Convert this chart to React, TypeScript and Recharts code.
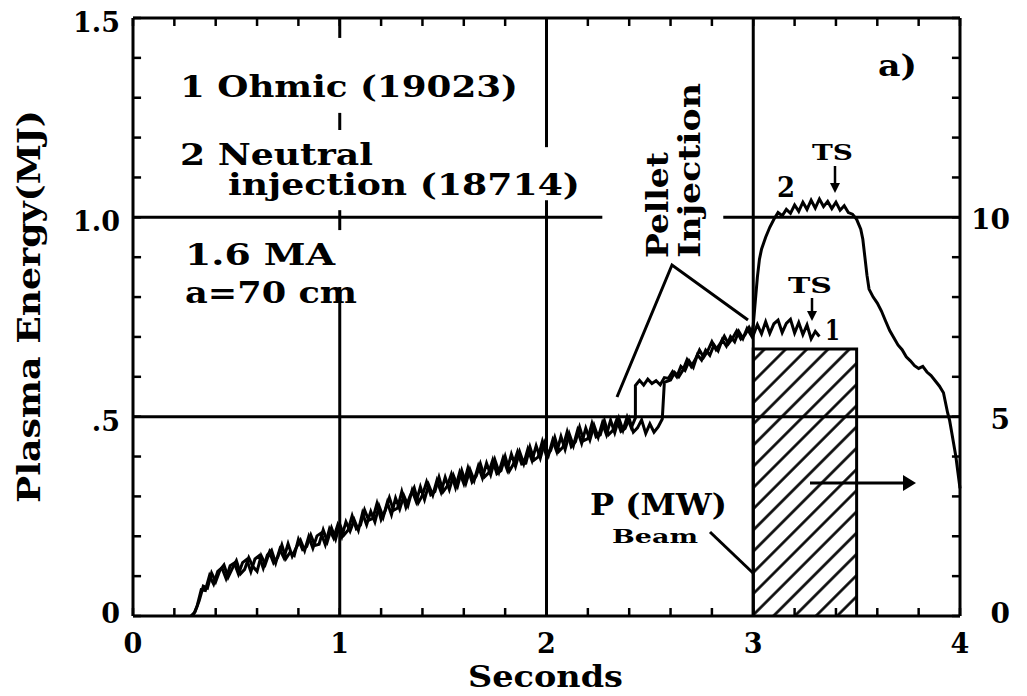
import { ComposedChart, Line, Area, XAxis, YAxis, ReferenceLine } from "recharts";

// Plasma energy, shot 19023 (ohmic), seconds / MJ
const ohmicTime = [
  0.28, 0.3, 0.32, 0.34, 0.36, 0.38, 0.4, 0.42, 0.44, 0.46, 0.48, 0.5, 0.52, 0.54, 0.56, 0.58,
  0.6, 0.62, 0.64, 0.66, 0.68, 0.7, 0.72, 0.74, 0.76, 0.78, 0.8, 0.82, 0.84, 0.86, 0.88, 0.9,
  0.92, 0.94, 0.96, 0.98, 1.0, 1.02, 1.04, 1.06, 1.08, 1.1, 1.12, 1.14, 1.16, 1.18, 1.2, 1.22,
  1.24, 1.26, 1.28, 1.3, 1.32, 1.34, 1.36, 1.38, 1.4, 1.42, 1.44, 1.46, 1.48, 1.5, 1.52, 1.54,
  1.56, 1.58, 1.6, 1.62, 1.64, 1.66, 1.68, 1.7, 1.72, 1.74, 1.76, 1.78, 1.8, 1.82, 1.84, 1.86,
  1.88, 1.9, 1.92, 1.94, 1.96, 1.98, 2.0, 2.02, 2.04, 2.06, 2.08, 2.1, 2.12, 2.14, 2.16, 2.18,
  2.2, 2.22, 2.24, 2.26, 2.28, 2.3, 2.32, 2.34, 2.36, 2.38, 2.4, 2.42, 2.44, 2.46, 2.48, 2.5,
  2.52, 2.54, 2.56, 2.57, 2.6, 2.62, 2.64, 2.66, 2.68, 2.7, 2.72, 2.74, 2.76, 2.78, 2.8, 2.82,
  2.84, 2.86, 2.88, 2.9, 2.92, 2.94, 2.96, 2.98, 3.0, 3.02, 3.04, 3.06, 3.08, 3.1, 3.12, 3.14,
  3.16, 3.18, 3.2, 3.22, 3.24, 3.26, 3.28, 3.3, 3.32,
];
const ohmicEnergy = [
  0.0, 0.01, 0.038, 0.075, 0.07, 0.108, 0.086, 0.114, 0.128, 0.097, 0.119, 0.139, 0.106, 0.117, 0.146, 0.124,
  0.112, 0.151, 0.13, 0.16, 0.133, 0.147, 0.178, 0.144, 0.16, 0.152, 0.192, 0.167, 0.174, 0.203, 0.177, 0.18,
  0.216, 0.187, 0.221, 0.193, 0.23, 0.203, 0.215, 0.251, 0.219, 0.228, 0.266, 0.24, 0.245, 0.282, 0.242, 0.264,
  0.297, 0.265, 0.271, 0.312, 0.273, 0.301, 0.322, 0.284, 0.303, 0.336, 0.304, 0.312, 0.348, 0.312, 0.326, 0.356,
  0.322, 0.36, 0.332, 0.371, 0.336, 0.351, 0.382, 0.349, 0.359, 0.391, 0.357, 0.365, 0.4, 0.363, 0.381, 0.412,
  0.381, 0.383, 0.424, 0.391, 0.399, 0.438, 0.401, 0.415, 0.448, 0.413, 0.424, 0.462, 0.425, 0.437, 0.474, 0.44,
  0.445, 0.483, 0.449, 0.454, 0.49, 0.455, 0.465, 0.493, 0.463, 0.47, 0.495, 0.461, 0.472, 0.492, 0.458, 0.482,
  0.461, 0.474, 0.494, 0.586, 0.592, 0.611, 0.6, 0.617, 0.643, 0.626, 0.644, 0.667, 0.649, 0.665, 0.688, 0.668,
  0.683, 0.702, 0.683, 0.697, 0.715, 0.695, 0.705, 0.724, 0.704, 0.731, 0.708, 0.738, 0.709, 0.733, 0.742, 0.711,
  0.734, 0.744, 0.71, 0.736, 0.706, 0.73, 0.695, 0.714, 0.701,
];

// Plasma energy, shot 18714 (neutral injection)
const nbiTime = [
  0.29, 0.31, 0.33, 0.35, 0.37, 0.39, 0.41, 0.43, 0.45, 0.47, 0.49, 0.51, 0.53, 0.55, 0.57, 0.59,
  0.61, 0.63, 0.65, 0.67, 0.69, 0.71, 0.73, 0.75, 0.77, 0.79, 0.81, 0.83, 0.85, 0.87, 0.89, 0.91,
  0.93, 0.95, 0.97, 0.99, 1.01, 1.03, 1.05, 1.07, 1.09, 1.11, 1.13, 1.15, 1.17, 1.19, 1.21, 1.23,
  1.25, 1.27, 1.29, 1.31, 1.33, 1.35, 1.37, 1.39, 1.41, 1.43, 1.45, 1.47, 1.49, 1.51, 1.53, 1.55,
  1.57, 1.59, 1.61, 1.63, 1.65, 1.67, 1.69, 1.71, 1.73, 1.75, 1.77, 1.79, 1.81, 1.83, 1.85, 1.87,
  1.89, 1.91, 1.93, 1.95, 1.97, 1.99, 2.01, 2.03, 2.05, 2.07, 2.09, 2.11, 2.13, 2.15, 2.17, 2.19,
  2.21, 2.23, 2.25, 2.27, 2.29, 2.31, 2.33, 2.35, 2.37, 2.39, 2.41, 2.43, 2.43, 2.45, 2.47, 2.49,
  2.51, 2.53, 2.55, 2.57, 2.59, 2.61, 2.63, 2.65, 2.67, 2.69, 2.71, 2.73, 2.75, 2.77, 2.79, 2.81,
  2.83, 2.85, 2.87, 2.89, 2.91, 2.93, 2.95, 2.97, 2.99, 3.0, 3.01, 3.02, 3.03, 3.04, 3.05, 3.06,
  3.08, 3.1, 3.12, 3.14, 3.16, 3.18, 3.2, 3.22, 3.24, 3.26, 3.28, 3.3, 3.32, 3.34, 3.36, 3.38,
  3.4, 3.42, 3.44, 3.46, 3.48, 3.5, 3.52, 3.53, 3.54, 3.55, 3.56, 3.58, 3.6, 3.62, 3.64, 3.66,
  3.68, 3.7, 3.72, 3.74, 3.76, 3.78, 3.8, 3.82, 3.84, 3.86, 3.88, 3.9, 3.92, 3.94, 3.95, 3.96,
  3.97, 3.98, 3.99, 4.0,
];
const nbiEnergy = [
  0.0, 0.025, 0.066, 0.064, 0.101, 0.08, 0.112, 0.121, 0.094, 0.126, 0.133, 0.105, 0.134, 0.142, 0.111, 0.143,
  0.151, 0.12, 0.153, 0.165, 0.133, 0.167, 0.146, 0.181, 0.15, 0.172, 0.19, 0.164, 0.199, 0.17, 0.201, 0.208,
  0.179, 0.218, 0.196, 0.228, 0.199, 0.236, 0.213, 0.241, 0.215, 0.258, 0.229, 0.262, 0.236, 0.276, 0.248, 0.285,
  0.254, 0.296, 0.268, 0.302, 0.277, 0.315, 0.287, 0.324, 0.292, 0.329, 0.303, 0.34, 0.311, 0.348, 0.317, 0.352,
  0.326, 0.365, 0.333, 0.367, 0.34, 0.376, 0.346, 0.383, 0.354, 0.392, 0.361, 0.396, 0.367, 0.406, 0.375, 0.412,
  0.382, 0.419, 0.39, 0.427, 0.396, 0.434, 0.404, 0.441, 0.412, 0.45, 0.418, 0.457, 0.427, 0.465, 0.433, 0.471,
  0.442, 0.478, 0.448, 0.484, 0.455, 0.491, 0.46, 0.496, 0.466, 0.499, 0.472, 0.497, 0.578, 0.591, 0.579, 0.594,
  0.583, 0.59, 0.58, 0.598, 0.596, 0.613, 0.6, 0.626, 0.616, 0.64, 0.624, 0.655, 0.642, 0.667, 0.654, 0.68,
  0.665, 0.693, 0.677, 0.701, 0.688, 0.714, 0.696, 0.721, 0.704, 0.73, 0.79, 0.85, 0.895, 0.92, 0.935, 0.95,
  0.975, 0.995, 1.012, 1.004, 1.02, 1.01, 1.031, 1.015, 1.038, 1.02, 1.043, 1.023, 1.046, 1.027, 1.04, 1.022,
  1.038, 1.018, 1.029, 1.012, 1.008, 0.995, 0.97, 0.945, 0.9, 0.855, 0.82, 0.8, 0.785, 0.765, 0.74, 0.716,
  0.698, 0.68, 0.668, 0.65, 0.64, 0.628, 0.621, 0.626, 0.612, 0.603, 0.59, 0.577, 0.56, 0.51, 0.49, 0.46,
  0.43, 0.4, 0.36, 0.32,
];

// Beam power (right axis, MW): on at 3.0 s, off at 3.5 s
const beamTime = [3.0, 3.0, 3.5, 3.5];
const beamPower = [0, 6.7, 6.7, 0];

const timeTicks = [
  0, 0.2, 0.4, 0.6, 0.8, 1, 1.2, 1.4, 1.6, 1.8, 2, 2.2, 2.4, 2.6, 2.8, 3, 3.2, 3.4, 3.6, 3.8, 4,
];
const energyTicks = [0, 0.1, 0.2, 0.3, 0.4, 0.5, 0.6, 0.7, 0.8, 0.9, 1, 1.1, 1.2, 1.3, 1.4, 1.5];
const powerTicks = [0, 5, 10];

const ohmicData = ohmicTime.map((t, i) => ({ time: t, energy: ohmicEnergy[i] }));
const nbiData = nbiTime.map((t, i) => ({ time: t, energy: nbiEnergy[i] }));
const beamData = beamTime.map((t, i) => ({ time: t, power: beamPower[i] }));

const FONT = "'DejaVu Serif', serif";
const INK = "#000";

// inward tick marks, in axis units (about 8 px long)
const X_TICK = 0.02;
const Y_TICK = 0.039;

const isWhole = (v: number) => Math.abs(v - Math.round(v)) < 1e-6;

const BottomTick = ({ x, y, payload }: any) =>
  isWhole(payload.value) ? (
    <text x={x} y={y + 37} textAnchor="middle" fontFamily={FONT} fontWeight="bold" fontSize={27}>
      {Math.round(payload.value)}
    </text>
  ) : (
    <g />
  );

const energyLabel = (v: number) => (v === 0 ? "0" : v === 0.5 ? ".5" : v.toFixed(1));

const LeftTick = ({ x, y, payload }: any) => {
  const v = payload.value;
  return isWhole(v * 2) ? (
    <text x={x - 13} y={y + (v === 0 ? 7 : 14)} textAnchor="end" fontFamily={FONT} fontWeight="bold" fontSize={27}>
      {energyLabel(v)}
    </text>
  ) : (
    <g />
  );
};

const RightTick = ({ x, y, payload }: any) => (
  <text
    x={x + 50}
    y={y + (payload.value === 0 ? 7 : 12)}
    textAnchor="end"
    fontFamily={FONT}
    fontWeight="bold"
    fontSize={28}
  >
    {payload.value}
  </text>
);

// pieces of the heavy grid, broken where the annotations sit
const vGrid: [number, number, number][] = [
  [1, 0, 0.825],
  [1, 0.968, 1.018],
  [1, 1.219, 1.262],
  [1, 1.45, 1.5],
  [2, 0, 1.043],
  [2, 1.176, 1.5],
  [3, 0, 1.5],
];
const hGrid: [number, number, number][] = [
  [0.5, 0, 4],
  [1, 0, 2.27],
  [1, 2.855, 4],
  [1.5, 0, 4],
];

const seg = (x0: number, y0: number, x1: number, y1: number, key: string, w = 3) => (
  <ReferenceLine
    key={key}
    segment={[
      { x: x0, y: y0 },
      { x: x1, y: y1 },
    ]}
    stroke={INK}
    strokeWidth={w}
  />
);

const Txt = ({ x, y, size = 29, len, rotate, children }: any) => (
  <text
    x={x}
    y={y}
    fontFamily={FONT}
    fontWeight="bold"
    fontSize={size}
    textLength={len}
    lengthAdjust="spacingAndGlyphs"
    transform={rotate ? `rotate(-90 ${x} ${y})` : undefined}
  >
    {children}
  </text>
);

const Annotations = () => (
  <svg
    width={1027}
    height={696}
    style={{ position: "absolute", left: 0, top: 0, pointerEvents: "none" }}
  >
    <defs>
      <pattern
        id="beamHatch"
        patternUnits="userSpaceOnUse"
        width={15}
        height={15}
        patternTransform="rotate(45)"
      >
        <rect width={15} height={15} fill="#fff" />
        <line x1={7.5} y1={0} x2={7.5} y2={15} stroke={INK} strokeWidth={2.6} />
      </pattern>
    </defs>

    <Txt x={40} y={503} size={31} len={393} rotate>
      Plasma Energy(MJ)
    </Txt>
    <Txt x={468} y={687} size={30} len={155}>
      Seconds
    </Txt>

    <Txt x={180} y={97} len={338}>
      1 Ohmic (19023)
    </Txt>
    <Txt x={180} y={165} len={193}>
      2 Neutral
    </Txt>
    <Txt x={228} y={195} len={352}>
      injection (18714)
    </Txt>
    <Txt x={185} y={265} len={150}>
      1.6 MA
    </Txt>
    <Txt x={185} y={303} len={172}>
      a=70 cm
    </Txt>
    <Txt x={878} y={76} len={39}>
      a)
    </Txt>

    <Txt x={668} y={258} size={30} len={106} rotate>
      Pellet
    </Txt>
    <Txt x={700} y={258} size={30} len={175} rotate>
      Injection
    </Txt>
    <polyline points="617,397 672,265 748,320" fill="none" stroke={INK} strokeWidth={3} />

    <Txt x={812} y={160} size={22} len={41}>
      TS
    </Txt>
    <line x1={835} y1={166} x2={835} y2={184} stroke={INK} strokeWidth={2.5} />
    <polygon points="830,183 840,183 835,193" fill={INK} />
    <Txt x={777} y={197} size={28} len={18}>
      2
    </Txt>

    <Txt x={788} y={293} size={22} len={44}>
      TS
    </Txt>
    <line x1={812} y1={298} x2={812} y2={312} stroke={INK} strokeWidth={2.5} />
    <polygon points="807,311 817,311 812,321" fill={INK} />
    <Txt x={825} y={340} size={28} len={15}>
      1
    </Txt>

    <Txt x={590} y={515} size={29} len={137}>
      P (MW)
    </Txt>
    <Txt x={612} y={543} size={18} len={86}>
      Beam
    </Txt>
    <line x1={710} y1={532} x2={753} y2={573} stroke={INK} strokeWidth={3} />

    <line x1={810} y1={483} x2={905} y2={483} stroke={INK} strokeWidth={3} />
    <polygon points="903,475 916,483 903,491" fill={INK} />
  </svg>
);

export default function App() {
  return (
    <div style={{ position: "absolute", left: 0, top: 0, width: 1027, height: 696, background: "#fff" }}>
      <ComposedChart width={1027} height={696} margin={{ top: 18, right: 7, bottom: 40, left: 73 }}>
        <XAxis
          dataKey="time"
          type="number"
          domain={[0, 4]}
          ticks={timeTicks}
          interval={0}
          tickSize={0}
          tickMargin={0}
          tickLine={false}
          height={40}
          axisLine={{ stroke: INK, strokeWidth: 3 }}
          tick={BottomTick}
        />
        <YAxis
          type="number"
          domain={[0, 1.5]}
          ticks={energyTicks}
          interval={0}
          tickSize={0}
          tickMargin={0}
          tickLine={false}
          width={60}
          axisLine={{ stroke: INK, strokeWidth: 3 }}
          tick={LeftTick}
        />
        <YAxis
          yAxisId="mw"
          orientation="right"
          type="number"
          domain={[0, 15]}
          allowDataOverflow
          ticks={powerTicks}
          interval={0}
          tickSize={0}
          tickMargin={0}
          tickLine={false}
          width={60}
          axisLine={{ stroke: INK, strokeWidth: 3 }}
          tick={RightTick}
        />

        {vGrid.map(([x, y0, y1], i) => seg(x, y0, x, y1, `v${i}`))}
        {hGrid.map(([y, x0, x1], i) => seg(x0, y, x1, y, `h${i}`))}

        {timeTicks.map((t, i) => seg(t, 0, t, X_TICK, `bt${i}`, 2.5))}
        {timeTicks.map((t, i) => seg(t, 1.5, t, 1.5 - X_TICK, `tt${i}`, 2.5))}
        {energyTicks.map((v, i) => seg(0, v, Y_TICK, v, `lt${i}`, 2.5))}
        {energyTicks.map((v, i) => seg(4, v, 4 - Y_TICK, v, `rt${i}`, 2.5))}

        <Area
          data={beamData}
          dataKey="power"
          yAxisId="mw"
          type="linear"
          stroke={INK}
          strokeWidth={3}
          fill="url(#beamHatch)"
          fillOpacity={1}
          isAnimationActive={false}
        />

        <Line
          data={ohmicData}
          dataKey="energy"
          type="linear"
          stroke={INK}
          strokeWidth={3}
          dot={false}
          isAnimationActive={false}
        />
        <Line
          data={nbiData}
          dataKey="energy"
          type="linear"
          stroke={INK}
          strokeWidth={3}
          dot={false}
          isAnimationActive={false}
        />
      </ComposedChart>
      <Annotations />
    </div>
  );
}
